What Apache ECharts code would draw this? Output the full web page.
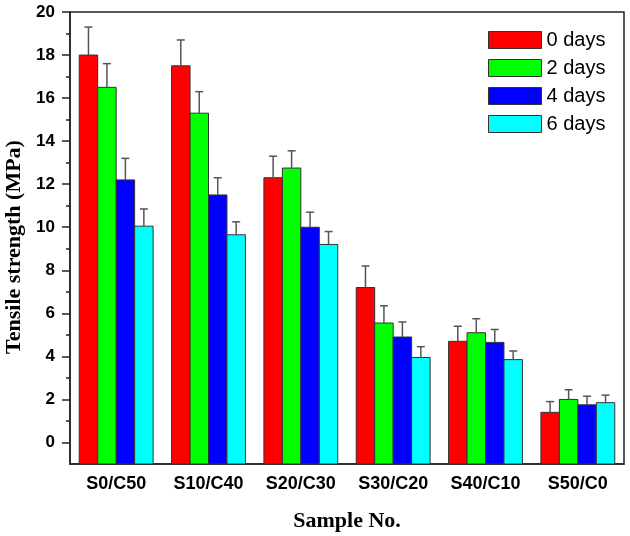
<!DOCTYPE html>
<html>
<head>
<meta charset="utf-8">
<title>Tensile strength</title>
<script src="https://cdn.jsdelivr.net/npm/echarts@6/dist/echarts.min.js"></script>
<style>
  html, body { margin: 0; padding: 0; background: #fff; }
  #chart { width: 630px; height: 536px; }
</style>
</head>
<body>
<div id="chart"></div>
<script>
var categories = ['S0/C50', 'S10/C40', 'S20/C30', 'S30/C20', 'S40/C10', 'S50/C0'];
var seriesNames = ['0 days', '2 days', '4 days', '6 days'];
var seriesColors = ['#ff0000', '#00ff00', '#0000ff', '#00ffff'];

// mean values (MPa)
var days0 = [18.0, 17.5, 12.3, 7.2, 4.7, 1.4];
var days2 = [16.5, 15.3, 12.75, 5.55, 5.1, 2.0];
var days4 = [12.2, 11.5, 10.0, 4.9, 4.65, 1.75];
var days6 = [10.05, 9.65, 9.2, 3.95, 3.85, 1.85];

// error bar (upper) sizes
var err0 = [1.3, 1.2, 1.0, 1.0, 0.7, 0.5];
var err2 = [1.1, 1.0, 0.8, 0.8, 0.65, 0.45];
var err4 = [1.0, 0.8, 0.7, 0.7, 0.6, 0.4];
var err6 = [0.8, 0.6, 0.6, 0.5, 0.4, 0.35];

var yTicks = [0, 2, 4, 6, 8, 10, 12, 14, 16, 18, 20];
var yMinorTicks = [1, 3, 5, 7, 9, 11, 13, 15, 17, 19];
var yMin = -1;
var yMax = 20;

var values = [days0, days2, days4, days6];
var errors = [err0, err2, err4, err6];

var chart = echarts.init(document.getElementById('chart'));

// bars start at the axis bottom (-1), so draw them with a custom series
function renderBar(params, api) {
  var si = params.seriesIndex;
  var idx = api.value(0);
  var val = api.value(1);
  var err = api.value(2);
  var top = api.coord([idx, val]);
  var bottom = api.coord([idx, yMin]);
  var bandW = api.size([1, 0])[0];
  var barW = bandW * 0.2;
  var x0 = top[0] - bandW * 0.4 + si * barW;
  var cx = x0 + barW / 2;
  var errTop = api.coord([idx, val + err])[1];
  return {
    type: 'group',
    children: [
      {
        type: 'rect',
        shape: { x: x0, y: top[1], width: barW, height: bottom[1] - top[1] },
        style: { fill: api.visual('color'), stroke: '#333', lineWidth: 1 }
      },
      {
        type: 'line',
        shape: { x1: cx, y1: top[1], x2: cx, y2: errTop },
        style: { stroke: '#555', lineWidth: 1.5 }
      },
      {
        type: 'line',
        shape: { x1: cx - 4, y1: errTop, x2: cx + 4, y2: errTop },
        style: { stroke: '#555', lineWidth: 1.5 }
      }
    ]
  };
}

var series = seriesNames.map(function (name, i) {
  return {
    name: name,
    type: 'custom',
    renderItem: renderBar,
    itemStyle: { color: seriesColors[i], borderColor: '#333', borderWidth: 1 },
    encode: { x: 0, y: 1 },
    data: categories.map(function (c, j) {
      return [j, values[i][j], errors[i][j]];
    })
  };
});

var labelFont = 'Liberation Sans, Arial, sans-serif';
var titleFont = 'Liberation Serif, Times New Roman, serif';
var axisColor = '#222';

chart.setOption({
  animation: false,
  grid: {
    left: 70,
    right: 6,
    top: 12,
    bottom: 72,
    outerBoundsMode: 'none',
    show: true,
    borderColor: axisColor,
    borderWidth: 1.5
  },
  legend: {
    data: seriesNames,
    orient: 'vertical',
    left: 483,
    top: 25,
    icon: 'rect',
    itemWidth: 53,
    itemHeight: 17,
    itemGap: 8,
    itemStyle: { borderColor: '#333', borderWidth: 1 },
    textStyle: { fontFamily: labelFont, fontSize: 20, color: '#000' }
  },
  xAxis: [
    {
      type: 'category',
      data: categories,
      name: 'Sample No.',
      nameLocation: 'middle',
      nameGap: 46,
      nameTextStyle: { fontFamily: titleFont, fontWeight: 'bold', fontSize: 22, color: '#000' },
      axisLine: { onZero: false, lineStyle: { color: axisColor, width: 1.5 } },
      axisTick: { alignWithLabel: true, length: 8, lineStyle: { color: axisColor, width: 1.5 } },
      axisLabel: { margin: 11, fontFamily: labelFont, fontWeight: 'bold', fontSize: 18, color: '#000' }
    },
    {
      // short ticks at the group boundaries
      type: 'category',
      data: categories,
      position: 'bottom',
      axisLine: { show: false, onZero: false },
      axisTick: { length: 4, lineStyle: { color: axisColor, width: 1.5 } },
      axisLabel: { show: false }
    }
  ],
  yAxis: [
    {
      type: 'value',
      min: yMin,
      max: yMax,
      name: 'Tensile strength (MPa)',
      nameLocation: 'middle',
      nameGap: 45,
      nameTextStyle: { fontFamily: titleFont, fontWeight: 'bold', fontSize: 22, color: '#000', padding: [0, 18, 0, 0] },
      splitLine: { show: false },
      axisLine: { show: true, lineStyle: { color: axisColor, width: 1.5 } },
      axisTick: { show: true, customValues: yTicks, length: 8, lineStyle: { color: axisColor, width: 1.5 } },
      axisLabel: { customValues: yTicks, margin: 15, fontFamily: labelFont, fontWeight: 'bold', fontSize: 17, color: '#000' }
    },
    {
      // minor ticks at odd values
      type: 'value',
      min: yMin,
      max: yMax,
      position: 'left',
      splitLine: { show: false },
      axisLine: { show: false },
      axisTick: { show: true, customValues: yMinorTicks, length: 4, lineStyle: { color: axisColor, width: 1.5 } },
      axisLabel: { show: false }
    }
  ],
  series: series
});
</script>
</body>
</html>
